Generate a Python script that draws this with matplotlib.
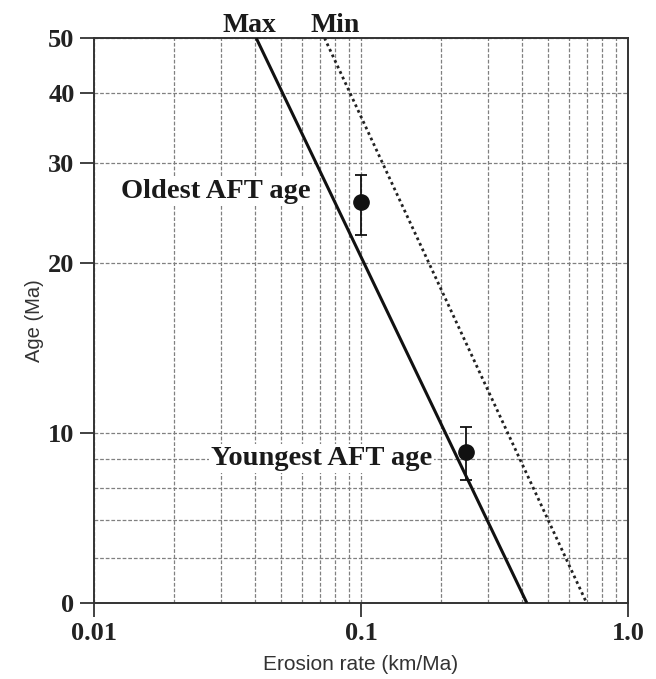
import matplotlib
matplotlib.use("Agg")
import matplotlib.pyplot as plt
from matplotlib.ticker import FixedLocator, NullFormatter

# ---- data ----
x_ticks = [0.01, 0.1, 1.0]
x_tick_labels = ["0.01", "0.1", "1.0"]
x_minor = [0.02, 0.03, 0.04, 0.05, 0.06, 0.07, 0.08, 0.09,
           0.2, 0.3, 0.4, 0.5, 0.6, 0.7, 0.8, 0.9]
y_ticks = [5, 10, 20, 30, 40, 50]
y_tick_labels = ["0", "10", "20", "30", "40", "50"]
y_minor = [6, 7, 8, 9]

max_rate = [0.0405, 0.418]
max_age = [50, 5]
min_rate = [0.073, 0.70]
min_age = [50, 5]

pt_names = ["Oldest AFT age", "Youngest AFT age"]
pt_rate = [0.1, 0.248]
pt_age = [25.6, 9.25]
pt_err_lo = [3.2, 1.0]
pt_err_hi = [3.0, 1.0]

serif = ["Liberation Serif", "DejaVu Serif"]
sans = ["Liberation Sans", "DejaVu Sans"]

fig = plt.figure(figsize=(6.56, 6.79), dpi=100)
ax = fig.add_axes([94/656, 1-603/679, (628-94)/656, (603-38)/679])

ax.set_xscale("log")
ax.set_yscale("log")
ax.set_xlim(0.01, 1.0)
ax.set_ylim(5, 50)

ax.xaxis.set_major_locator(FixedLocator(x_ticks))
ax.xaxis.set_minor_locator(FixedLocator(x_minor))
ax.xaxis.set_minor_formatter(NullFormatter())
ax.set_xticklabels(x_tick_labels)
ax.yaxis.set_major_locator(FixedLocator(y_ticks))
ax.yaxis.set_minor_locator(FixedLocator(y_minor))
ax.yaxis.set_minor_formatter(NullFormatter())
ax.set_yticklabels(y_tick_labels)

ax.tick_params(axis="both", which="major", direction="out", length=10,
               width=1.3, color="#333333", labelsize=19, pad=4)
ax.tick_params(axis="both", which="minor", length=0)
for lab in ax.get_xticklabels() + ax.get_yticklabels():
    lab.set_fontfamily(serif)
    lab.set_fontweight("bold")
    lab.set_color("#222222")

gkw = dict(color="#808080", lw=0.9, linestyle=(0, (3, 1.5)))
ax.grid(True, which="both", axis="both", **gkw)
ax.set_axisbelow(True)

for s in ax.spines.values():
    s.set_linewidth(1.4)
    s.set_color("#333333")

ax.plot(max_rate, max_age, color="#111111", lw=2.2, solid_capstyle="butt", zorder=3)
ax.plot(min_rate, min_age, color="#222222", lw=2.0, linestyle=(0, (1, 1.2)), zorder=3)

ax.errorbar(pt_rate, pt_age, yerr=[pt_err_lo, pt_err_hi], fmt="o", color="#111111",
            markersize=11, elinewidth=1.3, capsize=4, capthick=1.3, zorder=4)

ax.text(0.0287, 26.8, pt_names[0], fontsize=20.5, fontweight="bold", family=serif,
        ha="center", va="center", color="#1a1a1a", zorder=5,
        bbox=dict(facecolor="white", edgecolor="none", pad=1.5))
ax.text(0.0712, 9.0, pt_names[1], fontsize=20.5, fontweight="bold", family=serif,
        ha="center", va="center", color="#1a1a1a", zorder=5,
        bbox=dict(facecolor="white", edgecolor="none", pad=1.5))

ax.text(0.0382, 50.1, "Max", fontsize=20, fontweight="bold", family=serif,
        ha="center", va="bottom", color="#1a1a1a", clip_on=False)
ax.text(0.0802, 50.1, "Min", fontsize=20, fontweight="bold", family=serif,
        ha="center", va="bottom", color="#1a1a1a", clip_on=False)

ax.set_xlabel("Erosion rate (km/Ma)", fontsize=15, family=sans, color="#333333", labelpad=7)
ax.set_ylabel("Age (Ma)", fontsize=14.5, family=sans, color="#333333", labelpad=3)

fig.savefig("out.png", dpi=100)
